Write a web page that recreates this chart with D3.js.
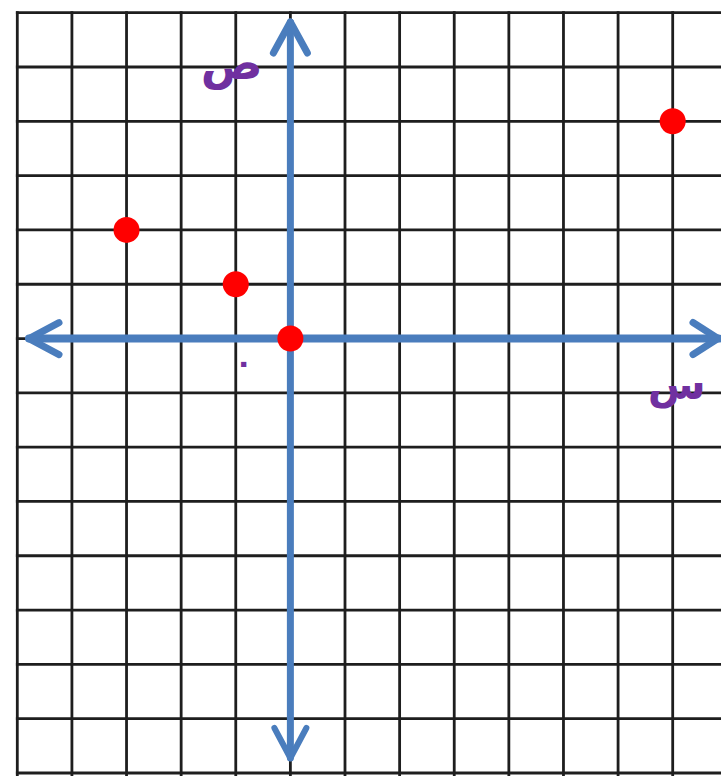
<!DOCTYPE html>
<html><head><meta charset="utf-8">
<script src="https://cdn.jsdelivr.net/npm/d3@7"></script>
<style>html,body{margin:0;padding:0;background:#fff;overflow:hidden}</style>
</head><body>
<svg id="c" width="721" height="779"></svg>
<script>
// data
const pointX = [-3, -1, 0, 7];
const pointY = [2, 1, 0, 4];
const xGrid = [-5,-4,-3,-2,-1,0,1,2,3,4,5,6,7];
const yGrid = [6,5,4,3,2,1,0,-1,-2,-3,-4,-5,-6,-7,-8];
const yLabel = "ص";
const xLabel = "س";
const originLabel = "٠";

const svg = d3.select("#c");
const x = d3.scaleLinear().domain([-5, 7]).range([17.3, 672.7]);
const y = d3.scaleLinear().domain([-8, 6]).range([773, 12.7]);

// grid
const g = svg.append("g").attr("stroke", "#1e1e1e").attr("stroke-width", 2.8);
g.selectAll("line.v").data(xGrid).join("line")
  .attr("x1", d => x(d)).attr("x2", d => x(d))
  .attr("y1", y(6) - 1.4).attr("y2", 776);
g.selectAll("line.h").data(yGrid).join("line")
  .attr("y1", d => y(d)).attr("y2", d => y(d))
  .attr("x1", x(-5) - 1.4).attr("x2", 721);

// axes
const blue = "#4a7dbd";
const ax = svg.append("g").attr("stroke", blue).attr("fill", "none")
  .attr("stroke-linecap", "round").attr("stroke-linejoin", "round");
const x0 = x(0), y0 = y(0);
ax.append("line").attr("x1", 29).attr("x2", 719).attr("y1", y0).attr("y2", y0).attr("stroke-width", 8);
ax.append("line").attr("x1", x0).attr("x2", x0).attr("y1", 22).attr("y2", 758).attr("stroke-width", 7);
// arrowheads
ax.append("path").attr("stroke-width", 7).attr("d", `M${29+30},${y0-16}L29,${y0}L${29+30},${y0+16}`);
ax.append("path").attr("stroke-width", 7).attr("d", `M${718-25},${y0-16}L718,${y0}L${718-25},${y0+16}`);
ax.append("path").attr("stroke-width", 7).attr("d", `M${x0-17},${22+31}L${x0},22L${x0+17},${22+31}`);
ax.append("path").attr("stroke-width", 6).attr("d", `M${x0-16},${758-30}L${x0},758L${x0+16},${758-30}`);

// points
svg.selectAll("circle.p").data(pointX.map((d, i) => [d, pointY[i]])).join("circle")
  .attr("cx", d => x(d[0])).attr("cy", d => y(d[1])).attr("r", 13).attr("fill", "#ff0000");

// labels
const purple = "#7030a0";
svg.append("text").text(yLabel).attr("x", x(-1) - 4).attr("y", y(5) + 12)
  .attr("text-anchor", "middle").attr("font-family", "DejaVu Sans").attr("font-size", 46)
  .attr("font-weight", "bold").attr("fill", purple);
svg.append("text").text(xLabel).attr("x", x(7) + 4).attr("y", y(-1) + 6)
  .attr("text-anchor", "middle").attr("font-family", "DejaVu Sans").attr("font-size", 42)
  .attr("font-weight", "bold").attr("fill", purple);
svg.append("text").text(originLabel).attr("x", x(-1) + 8).attr("y", y(0) + 34)
  .attr("text-anchor", "middle").attr("font-family", "DejaVu Sans").attr("font-size", 30)
  .attr("font-weight", "bold").attr("fill", purple);
</script>
</body></html>
